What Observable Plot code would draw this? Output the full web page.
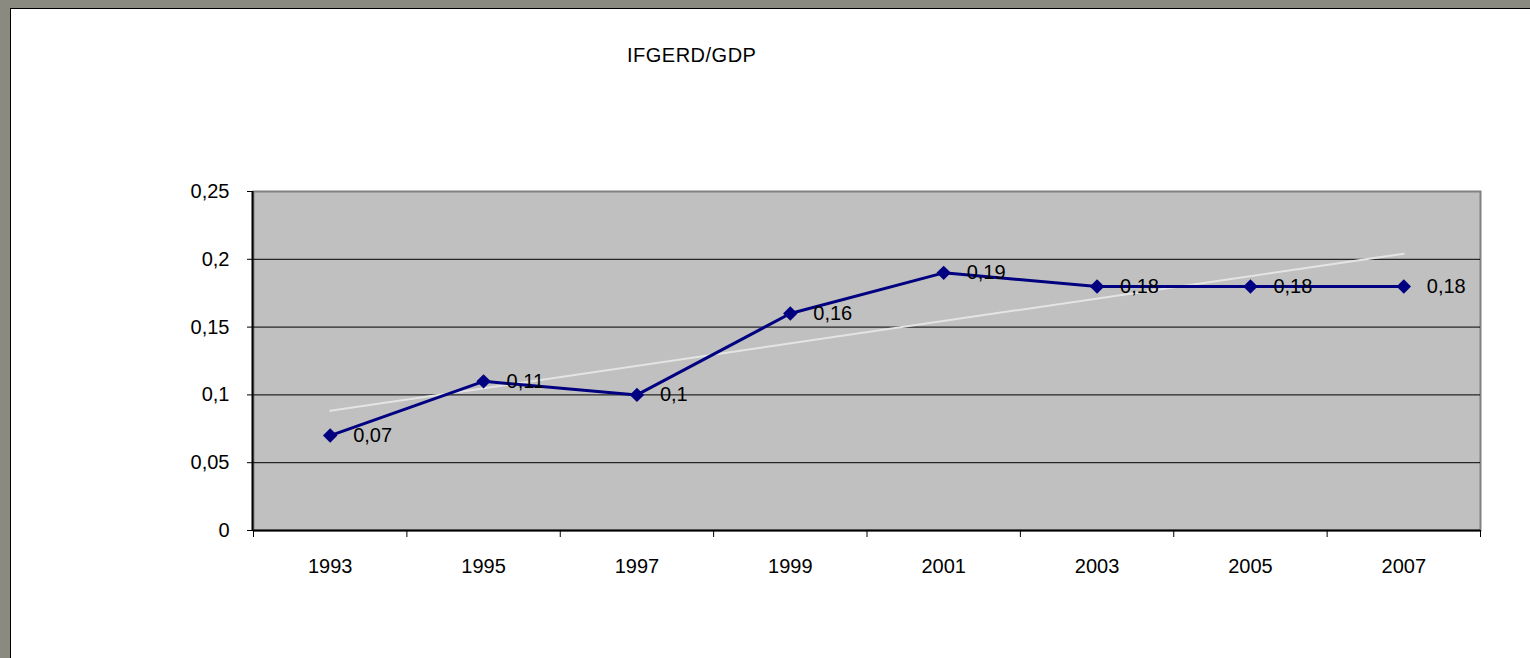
<!DOCTYPE html>
<html>
<head>
<meta charset="utf-8">
<script src="https://cdn.jsdelivr.net/npm/d3@7"></script>
<script src="https://cdn.jsdelivr.net/npm/@observablehq/plot@0.6"></script>
<style>
  html, body { margin: 0; padding: 0; width: 1530px; height: 658px; overflow: hidden; background: #8a8a80; }
  #panel { position: absolute; left: 10px; top: 8px; width: 1520px; height: 650px; background: #fff; border-left: 1px solid #000; border-top: 1px solid #000; }
  #title { position: absolute; left: 616px; top: 35px; font: 20px "Liberation Sans", Arial, sans-serif; color: #000; white-space: nowrap; letter-spacing: 0.5px; }
  #chart { position: absolute; left: 0px; top: 0px; }
</style>
</head>
<body>
<div id="panel">
  <div id="title">IFGERD/GDP</div>
  <div id="chart"></div>
</div>
<script>
const years = [1993, 1995, 1997, 1999, 2001, 2003, 2005, 2007];
const values = [0.07, 0.11, 0.10, 0.16, 0.19, 0.18, 0.18, 0.18];
const valueLabels = ["0,07", "0,11", "0,1", "0,16", "0,19", "0,18", "0,18", "0,18"];
const yTicks = [0, 0.05, 0.1, 0.15, 0.2, 0.25];
const yTickLabels = ["0", "0,05", "0,1", "0,15", "0,2", "0,25"];
const xBoundaries = [1992, 1994, 1996, 1998, 2000, 2002, 2004, 2006, 2008];
const gridValues = [0.05, 0.1, 0.15, 0.2];

const data = years.map((y, i) => ({year: y, value: values[i], label: valueLabels[i]}));

const chart = Plot.plot({
  width: 1519,
  height: 649,
  marginLeft: 242,
  marginRight: 50,
  marginTop: 182,
  marginBottom: 128,
  style: {fontFamily: '"Liberation Sans", Arial, sans-serif', fontSize: "20px", color: "#000", background: "transparent"},
  x: {domain: [1992, 2008], label: null},
  y: {domain: [0, 0.25], label: null},
  marks: [
    Plot.frame({fill: "#c0c0c0", stroke: "#808080", strokeWidth: 2}),
    Plot.ruleY(gridValues, {stroke: "#000", strokeWidth: 1}),
    Plot.ruleY([0], {stroke: "#000", strokeWidth: 2}),
    Plot.ruleX([xBoundaries[0]], {stroke: "#000", strokeWidth: 2, dx: -1}),
    Plot.axisY(yTicks, {anchor: "left", tickSize: 6, tickPadding: 18, tickFormat: d => yTickLabels[yTicks.indexOf(d)], label: null}),
    Plot.axisX(xBoundaries, {anchor: "bottom", tickSize: 7, tickFormat: () => "", label: null}),
    Plot.axisX(years, {anchor: "bottom", tickSize: 0, tickPadding: 28, tickFormat: d => String(d), label: null}),
    Plot.linearRegressionY(data, {x: "year", y: "value", stroke: "#e4e4e4", strokeWidth: 2, ci: 0}),
    Plot.line(data, {x: "year", y: "value", stroke: "#000080", strokeWidth: 3}),
    Plot.dot(data, {x: "year", y: "value", symbol: "diamond2", r: 6.5, fill: "#000080", stroke: "none"}),
    Plot.text(data, {x: "year", y: "value", text: "label", textAnchor: "start", dx: 23, fill: "#000", fontSize: 20})
  ]
});
document.getElementById("chart").appendChild(chart);
</script>
</body>
</html>
